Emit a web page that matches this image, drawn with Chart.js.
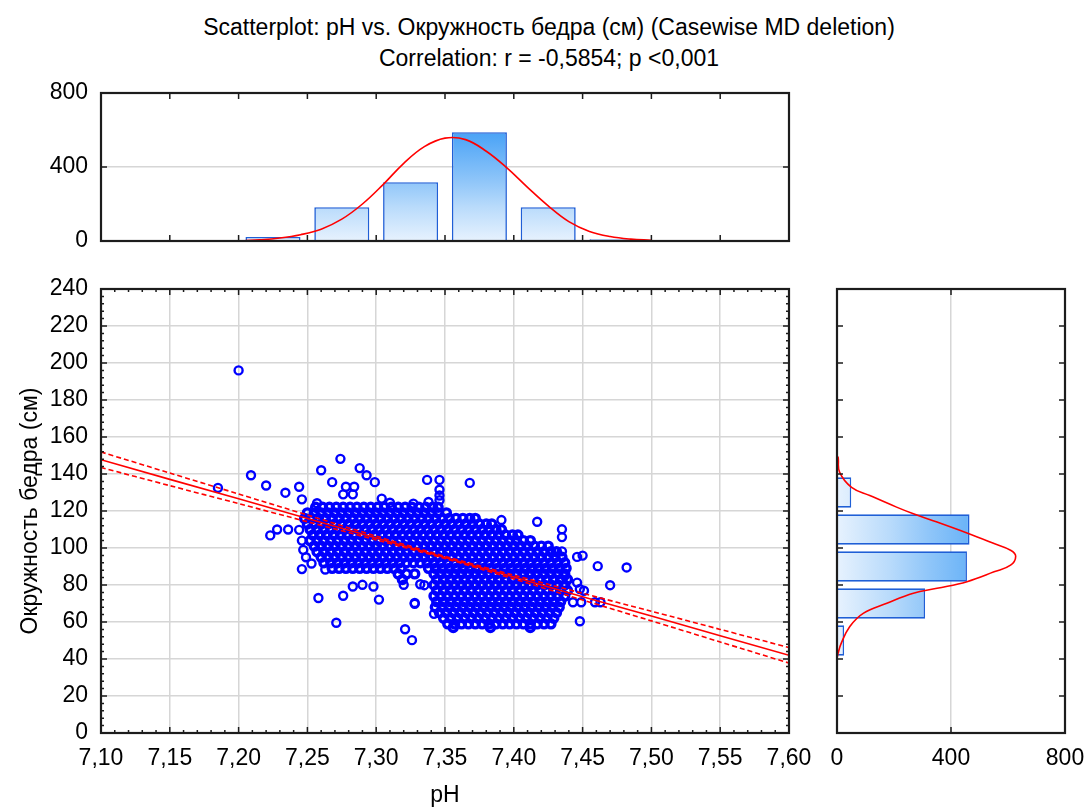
<!DOCTYPE html>
<html><head><meta charset="utf-8">
<script src="https://cdn.jsdelivr.net/npm/chart.js@4.4.0/dist/chart.umd.min.js"></script>
<style>
html,body{margin:0;padding:0;background:#fff;width:1086px;height:809px;overflow:hidden;}
.t{position:absolute;left:6px;width:1086px;text-align:center;font-family:'Liberation Sans',Arial,sans-serif;font-size:23px;color:#000;line-height:28px;}
canvas{position:absolute;}
</style></head><body>
<div class="t" style="top:13px">Scatterplot: pH vs. Окружность бедра (см) (Casewise MD deletion)</div>
<div class="t" style="top:44px">Correlation: r = -0,5854; p &lt;0,001</div>
<canvas id="top" width="815" height="175" style="left:0;top:80px;width:815px;height:175px"></canvas>
<canvas id="main" width="815" height="539" style="left:0;top:270px;width:815px;height:539px"></canvas>
<canvas id="right" width="271" height="539" style="left:815px;top:270px;width:271px;height:539px"></canvas>
<script>
// ---------- DATA ----------
const phTicks = [7.10, 7.15, 7.20, 7.25, 7.30, 7.35, 7.40, 7.45, 7.50, 7.55, 7.60];
const phTickLabels = ['7,10','7,15','7,20','7,25','7,30','7,35','7,40','7,45','7,50','7,55','7,60'];
const hipTicks = [0,20,40,60,80,100,120,140,160,180,200,220,240];
const countTicks = [0, 400, 800];

// top histogram (pH)
const topHistPh = [7.225, 7.275, 7.325, 7.375, 7.425, 7.475];
const topHistN  = [22, 183, 318, 588, 183, 9];
const topCurvePh = [7.205, 7.215, 7.230, 7.245, 7.260, 7.275, 7.290, 7.305, 7.320, 7.335, 7.350, 7.365, 7.380, 7.395, 7.410, 7.425, 7.440, 7.455, 7.470, 7.485, 7.500];
const topCurveN  = [3, 6, 16, 34, 64, 118, 200, 305, 420, 510, 556, 548, 485, 395, 290, 190, 105, 52, 24, 10, 4];

// right histogram (hip circumference)
const rightHistHip = [50, 70, 90, 110, 130];
const rightHistN   = [25, 309, 456, 465, 50];
const rightCurveHip = [149.5, 149, 141, 132.8, 128.4, 122.1, 118.5, 114, 108.1, 102.4, 98.8, 95.6, 90.7, 87.1, 81.8, 78.2, 75.5, 70.1, 64.7, 57.6, 48.6, 43.2, 41];
const rightCurveN   = [0, 4, 9, 51, 115, 209, 268, 351, 456, 551, 609, 627, 609, 551, 456, 351, 268, 175, 92, 45, 15, 4, 1];

// regression line and 95% confidence band
const fitPh    = [7.10, 7.15, 7.20, 7.25, 7.30, 7.35, 7.40, 7.45, 7.50, 7.55, 7.60];
const fitHip   = [147.7, 137.1, 126.6, 116.0, 105.4, 94.9, 84.3, 73.7, 63.2, 52.6, 42.0];
const fitUpper = [151.9, 140.5, 129.2, 117.8, 106.4, 95.5, 85.3, 75.5, 65.8, 56.0, 46.2];
const fitLower = [143.5, 133.7, 124.0, 114.2, 104.4, 94.3, 83.3, 71.9, 60.6, 49.2, 37.8];

// scattered observations
const outlierPh  = [7.200, 7.185, 7.209, 7.220, 7.234, 7.244, 7.246, 7.257, 7.260, 7.268, 7.274, 7.278, 7.284, 7.288, 7.293, 7.299, 7.304, 7.310, 7.316, 7.327, 7.276, 7.283,
  7.223, 7.228, 7.236, 7.244, 7.246, 7.247, 7.249, 7.246, 7.253, 7.263, 7.258, 7.271, 7.276, 7.283, 7.290, 7.298, 7.302, 7.320, 7.328, 7.321, 7.326, 7.332, 7.335, 7.328, 7.342,
  7.337, 7.346, 7.346, 7.346, 7.346, 7.368, 7.338, 7.391, 7.417, 7.435, 7.435, 7.435, 7.446, 7.450, 7.461, 7.482, 7.470, 7.437, 7.446, 7.448, 7.451, 7.443, 7.449, 7.459, 7.463, 7.448];
const outlierHip = [196, 132.5, 139.3, 133.8, 129.9, 133.1, 126.3, 124.2, 142, 135.6, 148.2, 133.1, 133.1, 143.2, 139.3, 135.6, 126.7, 124.5, 121.9, 124, 129, 129,
  106.8, 110, 110, 109.8, 104, 99, 95, 88.6, 91.6, 88.4, 73, 59.6, 74.2, 79.2, 80.1, 79.2, 72.1, 80.1, 70.3, 56.1, 50.2, 80.4, 79.9, 69.8, 64.4,
  136.8, 136.8, 131.5, 128.4, 125.8, 135.2, 124.9, 115.1, 114.2, 110.1, 105.9, 98.2, 95.2, 95.9, 90.2, 89.5, 79.9, 84.9, 81.3, 77.8, 76.9, 70.7, 70.7, 70.7, 70.7, 60.4];

// dense core of the cloud, read row by row (hip value, then the pH values seen on that row)
const coreHip = [122, 119, 116, 113, 110, 107, 104, 101, 98, 95, 92, 89, 86, 83, 80, 77, 74, 71, 68, 65, 62, 59, 57];
const corePh = [
  [7.256,7.261,7.266,7.271,7.276,7.281,7.286,7.291,7.296,7.301,7.306,7.311,7.316,7.321,7.326,7.331,7.336,7.341,7.345],
  [7.250,7.255,7.260,7.265,7.270,7.275,7.280,7.285,7.290,7.295,7.300,7.305,7.310,7.315,7.320,7.325,7.330,7.335,7.340,7.345,7.351],
  [7.248,7.253,7.258,7.263,7.268,7.273,7.278,7.283,7.288,7.293,7.298,7.303,7.308,7.313,7.318,7.323,7.328,7.333,7.338,7.343,7.348,7.353,7.358,7.363,7.368,7.372],
  [7.250,7.255,7.260,7.265,7.270,7.275,7.280,7.285,7.290,7.295,7.300,7.305,7.310,7.315,7.320,7.325,7.330,7.335,7.340,7.345,7.350,7.355,7.360,7.365,7.370,7.375,7.380,7.384],
  [7.252,7.257,7.262,7.267,7.272,7.277,7.282,7.287,7.292,7.297,7.302,7.307,7.312,7.317,7.322,7.327,7.332,7.337,7.342,7.347,7.352,7.357,7.362,7.367,7.372,7.377,7.382,7.387,7.391],
  [7.254,7.259,7.264,7.269,7.274,7.279,7.284,7.289,7.294,7.299,7.304,7.309,7.314,7.319,7.324,7.329,7.334,7.339,7.344,7.349,7.354,7.359,7.364,7.369,7.374,7.379,7.384,7.389,7.394,7.399,7.403],
  [7.252,7.257,7.262,7.267,7.272,7.277,7.282,7.287,7.292,7.297,7.302,7.307,7.312,7.317,7.322,7.327,7.332,7.337,7.342,7.347,7.352,7.357,7.362,7.367,7.372,7.377,7.382,7.387,7.392,7.397,7.402,7.407,7.412],
  [7.255,7.260,7.265,7.270,7.275,7.280,7.285,7.290,7.295,7.300,7.305,7.310,7.315,7.320,7.325,7.330,7.335,7.340,7.345,7.350,7.355,7.360,7.365,7.370,7.375,7.380,7.385,7.390,7.395,7.400,7.405,7.410,7.415,7.420,7.425],
  [7.257,7.262,7.267,7.272,7.277,7.282,7.287,7.292,7.297,7.302,7.307,7.312,7.317,7.322,7.327,7.332,7.337,7.342,7.347,7.352,7.357,7.362,7.367,7.372,7.377,7.382,7.387,7.392,7.397,7.402,7.407,7.412,7.417,7.422,7.427,7.431],
  [7.260,7.265,7.270,7.275,7.280,7.285,7.290,7.295,7.300,7.305,7.310,7.315,7.320,7.325,7.330,7.335,7.340,7.345,7.350,7.355,7.360,7.365,7.370,7.375,7.380,7.385,7.390,7.395,7.400,7.405,7.410,7.415,7.420,7.425,7.430,7.435],
  [7.262,7.267,7.272,7.277,7.282,7.287,7.292,7.297,7.302,7.307,7.312,7.317,7.322,7.327,7.332,7.337,7.342,7.347,7.352,7.357,7.362,7.367,7.372,7.377,7.382,7.387,7.392,7.397,7.402,7.407,7.412,7.417,7.422,7.427,7.432,7.437],
  [7.268,7.273,7.278,7.283,7.288,7.293,7.298,7.303,7.308,7.313,7.318,7.338,7.343,7.348,7.353,7.358,7.363,7.368,7.373,7.378,7.383,7.388,7.393,7.398,7.403,7.408,7.413,7.418,7.423,7.428,7.433,7.438],
  [7.316,7.322,7.328,7.342,7.347,7.352,7.357,7.362,7.367,7.372,7.377,7.382,7.387,7.392,7.397,7.402,7.407,7.412,7.417,7.422,7.427,7.432,7.437],
  [7.319,7.344,7.349,7.354,7.359,7.364,7.369,7.374,7.379,7.384,7.389,7.394,7.399,7.404,7.409,7.414,7.419,7.424,7.429,7.434,7.439],
  [7.342,7.347,7.352,7.357,7.362,7.367,7.372,7.377,7.382,7.387,7.392,7.397,7.402,7.407,7.412,7.417,7.422,7.427,7.432,7.437],
  [7.344,7.349,7.354,7.359,7.364,7.369,7.374,7.379,7.384,7.389,7.394,7.399,7.404,7.409,7.414,7.419,7.424,7.429,7.434,7.439],
  [7.342,7.347,7.352,7.357,7.362,7.367,7.372,7.377,7.382,7.387,7.392,7.397,7.402,7.407,7.412,7.417,7.422,7.427,7.432,7.437],
  [7.344,7.349,7.354,7.359,7.364,7.369,7.374,7.379,7.384,7.389,7.394,7.399,7.404,7.409,7.414,7.419,7.424,7.429,7.434],
  [7.343,7.348,7.353,7.358,7.363,7.368,7.373,7.378,7.383,7.388,7.393,7.398,7.403,7.408,7.413,7.418,7.423,7.428,7.433],
  [7.346,7.351,7.356,7.361,7.366,7.371,7.376,7.381,7.386,7.391,7.396,7.401,7.406,7.411,7.416,7.421,7.426,7.431],
  [7.349,7.354,7.359,7.364,7.369,7.374,7.379,7.384,7.389,7.394,7.399,7.404,7.409,7.414,7.419,7.424,7.429],
  [7.352,7.357,7.362,7.367,7.372,7.377,7.382,7.387,7.392,7.397,7.402,7.407,7.412,7.417,7.422,7.427],
  [7.356,7.383,7.412]
];

// ---------- STYLE / BUILD ----------
const FONT = "'Liberation Sans',Arial,sans-serif";
Chart.defaults.font.family = FONT;
Chart.defaults.font.size = 23;
Chart.defaults.color = '#000';
Chart.defaults.animation = false;

const GRID = '#d6d6d6';
const BLUE_EDGE = '#1f5fd6';
const outlierPts = outlierPh.map((p, i) => ({x: p, y: outlierHip[i]}));
const corePts = [];
coreHip.forEach((h, r) => corePh[r].forEach(p => corePts.push({x: p, y: h})));

// scale fit helpers: fix the axis box size and stop tick labels from inflating the layout padding
const fitY = w => s => { s.width = w; s.paddingTop = 0; s.paddingBottom = 0; };
const fitX = h => s => { s.height = h; s.paddingLeft = 0; s.paddingRight = 0; };

function barGradient(ctx, horizontal) {
  const area = ctx.chart.chartArea;
  if (!area) return '#9ccbf8';
  const g = horizontal
    ? ctx.chart.ctx.createLinearGradient(area.left, 0, area.right, 0)
    : ctx.chart.ctx.createLinearGradient(0, area.bottom, 0, area.top);
  g.addColorStop(0, '#e7f2fe');
  g.addColorStop(0.23, '#b9dbfb');
  g.addColorStop(0.40, '#90c6f9');
  g.addColorStop(0.74, '#48a2f6');
  g.addColorStop(1, '#1f86f0');
  return g;
}

function framePlugin(name, xMarks, yMarks) {
  return {
    id: 'frame_' + name,
    afterDraw(chart) {
      const {ctx, chartArea: a, scales} = chart;
      ctx.save();
      ctx.strokeStyle = '#1c1c1c';
      ctx.lineWidth = 1.5;
      ctx.beginPath();
      xMarks.forEach(([v, len]) => {
        const px = scales.x.getPixelForValue(v);
        ctx.moveTo(px, a.bottom); ctx.lineTo(px, a.bottom - len);
        ctx.moveTo(px, a.top); ctx.lineTo(px, a.top + len);
      });
      yMarks.forEach(([v, len]) => {
        const py = scales.y.getPixelForValue(v);
        ctx.moveTo(a.left, py); ctx.lineTo(a.left + len, py);
        ctx.moveTo(a.right, py); ctx.lineTo(a.right - len, py);
      });
      ctx.stroke();
      ctx.lineWidth = 2.2;
      ctx.strokeRect(a.left, a.top, a.right - a.left, a.bottom - a.top);
      ctx.restore();
    }
  };
}

const mainXMarks = [], mainYMarks = [];
for (let k = 0; k <= 50; k++) mainXMarks.push([(710 + k) / 100, k % 5 === 0 ? 6 : 3]);
for (let k = 0; k <= 60; k++) mainYMarks.push([k * 4, k % 5 === 0 ? 6 : 3]);

// ----- main scatter -----
new Chart(document.getElementById('main'), {
  type: 'scatter',
  data: {
    datasets: [
      {label: 'fit', data: fitPh.map((x, i) => ({x, y: fitHip[i]})), showLine: true, borderColor: '#ff0000', borderWidth: 1.6, pointRadius: 0, order: 0},
      {label: 'upper', data: fitPh.map((x, i) => ({x, y: fitUpper[i]})), showLine: true, borderColor: '#ff0000', borderWidth: 1.6, borderDash: [5, 3], pointRadius: 0, tension: 0.3, order: 0},
      {label: 'lower', data: fitPh.map((x, i) => ({x, y: fitLower[i]})), showLine: true, borderColor: '#ff0000', borderWidth: 1.6, borderDash: [5, 3], pointRadius: 0, tension: 0.3, order: 0},
      {label: 'core', data: corePts, pointRadius: 4, borderWidth: 3.4, borderColor: '#0000ff', backgroundColor: 'rgba(0,0,0,0)', order: 1},
      {label: 'obs', data: outlierPts, pointRadius: 4, borderWidth: 2.4, borderColor: '#0000ff', backgroundColor: 'rgba(0,0,0,0)', order: 1}
    ]
  },
  options: {
    responsive: false, animation: false,
    layout: {padding: {top: 19, right: 26, left: 0, bottom: 0}},
    plugins: {legend: {display: false}, tooltip: {enabled: false}},
    scales: {
      x: {
        type: 'linear', min: 7.10, max: 7.60,
        afterBuildTicks: s => { s.ticks = phTicks.map(v => ({value: v})); },
        afterFit: fitX(76),
        ticks: {callback: (v, i) => phTickLabels[i], padding: 12, maxRotation: 0, autoSkip: false},
        grid: {color: GRID, lineWidth: 1.5, drawTicks: false},
        border: {display: false},
        title: {display: true, text: 'pH', padding: {top: 0, bottom: 0}}
      },
      y: {
        type: 'linear', min: 0, max: 240,
        afterBuildTicks: s => { s.ticks = hipTicks.map(v => ({value: v})); },
        afterFit: fitY(101),
        ticks: {padding: 13, autoSkip: false},
        grid: {color: GRID, lineWidth: 1.5, drawTicks: false},
        border: {display: false},
        title: {display: true, text: 'Окружность бедра (см)', padding: {top: 17, bottom: 0}}
      }
    }
  },
  plugins: [framePlugin('main', mainXMarks, mainYMarks)]
});

// ----- top histogram -----
new Chart(document.getElementById('top'), {
  type: 'bar',
  data: {
    datasets: [
      {type: 'line', data: topCurvePh.map((x, i) => ({x, y: topCurveN[i]})), borderColor: '#ff0000', borderWidth: 1.6, pointRadius: 0, tension: 0.4, order: 0},
      {data: topHistPh.map((x, i) => ({x, y: topHistN[i]})), backgroundColor: c => barGradient(c, false), borderColor: BLUE_EDGE, borderWidth: 1.6, categoryPercentage: 1, barPercentage: 0.8, order: 1}
    ]
  },
  options: {
    responsive: false, animation: false,
    layout: {padding: {top: 13, right: 26, left: 0, bottom: 14}},
    plugins: {legend: {display: false}, tooltip: {enabled: false}},
    scales: {
      x: {type: 'linear', min: 7.10, max: 7.60, offset: false, display: false, grid: {offset: false}},
      y: {
        type: 'linear', min: 0, max: 800,
        afterBuildTicks: s => { s.ticks = countTicks.map(v => ({value: v})); },
        afterFit: fitY(101),
        ticks: {padding: 13},
        grid: {color: c => c.tick && c.tick.value === 400 ? GRID : 'rgba(0,0,0,0)', lineWidth: 1.5, drawTicks: false},
        border: {display: false}
      }
    }
  },
  plugins: [framePlugin('top', phTicks.map(v => [v, 6]), [[400, 6]])]
});

// ----- right histogram -----
new Chart(document.getElementById('right'), {
  type: 'bar',
  data: {
    datasets: [
      {type: 'line', data: rightCurveHip.map((h, i) => ({x: rightCurveN[i], y: h})), borderColor: '#ff0000', borderWidth: 1.6, pointRadius: 0, tension: 0.4, order: 0},
      {data: rightHistHip.map((h, i) => ({x: rightHistN[i], y: h})), backgroundColor: c => barGradient(c, true), borderColor: BLUE_EDGE, borderWidth: 1.6, categoryPercentage: 1, barPercentage: 0.82, order: 1}
    ]
  },
  options: {
    indexAxis: 'y',
    responsive: false, animation: false,
    layout: {padding: {top: 19, right: 21, left: 22, bottom: 0}},
    plugins: {legend: {display: false}, tooltip: {enabled: false}},
    scales: {
      y: {type: 'linear', min: 0, max: 240, offset: false, display: false, grid: {offset: false},
          afterBuildTicks: s => { s.ticks = hipTicks.map(v => ({value: v})); }},
      x: {
        type: 'linear', min: 0, max: 800,
        afterBuildTicks: s => { s.ticks = countTicks.map(v => ({value: v})); },
        afterFit: fitX(76),
        ticks: {padding: 12, maxRotation: 0},
        grid: {color: c => c.tick && c.tick.value === 400 ? GRID : 'rgba(0,0,0,0)', lineWidth: 1.5, drawTicks: false},
        border: {display: false}
      }
    }
  },
  plugins: [framePlugin('right', [[400, 6]], hipTicks.map(v => [v, 6]))]
});
</script>
</body></html>
